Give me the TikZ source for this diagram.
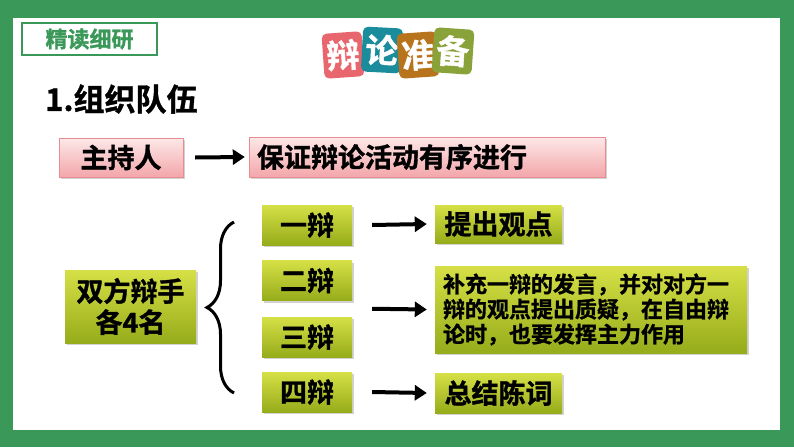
\documentclass[tikz,border=0pt]{standalone}
\usepackage{fontspec}
\setmainfont{Noto Sans CJK SC}[BoldFont={Noto Sans CJK SC Bold},BoldFeatures={FakeBold=1.2}]
\usetikzlibrary{arrows.meta,shadows,decorations.pathreplacing,calc}
\definecolor{framegreen}{RGB}{58,152,88}
\definecolor{pinktop}{RGB}{253,232,232}
\definecolor{pinkbot}{RGB}{243,166,170}
\definecolor{pinkline}{RGB}{232,140,146}
\definecolor{olivetop}{RGB}{214,224,70}
\definecolor{olivebot}{RGB}{150,172,26}
\definecolor{tileA}{RGB}{232,103,110}
\definecolor{tileB}{RGB}{26,140,156}
\definecolor{tileC}{RGB}{184,116,28}
\definecolor{tileD}{RGB}{138,162,58}
\begin{document}
\begin{tikzpicture}[x=1pt,y=-1pt,
  pinkbox/.style={draw=pinkline,top color=pinktop,bottom color=pinkbot,
    drop shadow={shadow xshift=2pt,shadow yshift=-2pt,opacity=0.35},
    font=\fontsize{27}{30}\selectfont\bfseries,inner sep=0pt},
  greenbox/.style={top color=olivetop,bottom color=olivebot,
    drop shadow={shadow xshift=2pt,shadow yshift=-2pt,opacity=0.35},
    font=\fontsize{27}{31}\selectfont\bfseries,inner sep=0pt,align=center},
  tile/.style={rounded corners=5pt,minimum width=40pt,minimum height=45pt,
    text=white,font=\fontsize{33}{33}\selectfont\bfseries,inner sep=0pt},
  arr/.style={-{Triangle[length=12pt,width=15pt]},line width=4pt}]
\useasboundingbox (0,0) rectangle (794,447);
% frame
\fill[framegreen] (0,0) rectangle (794,447);
\fill[white] (13,18) rectangle (780,430);
% heading
\node[draw=framegreen,line width=2pt,minimum width=135pt,minimum height=32pt,
  text=framegreen,font=\fontsize{22}{22}\selectfont\bfseries] (tag) at (89.5,39) {精读细研};
\node[tile,fill=tileA,rotate=4] (t1) at (343,55) {辩};
\node[tile,fill=tileB,rotate=-3] (t2) at (382,50) {论};
\node[tile,fill=tileC,rotate=4] (t3) at (418,55) {准};
\node[tile,fill=tileD,rotate=-4] (t4) at (453,51) {备};
\node[anchor=west,font=\fontsize{31}{31}\selectfont\bfseries,inner sep=0pt] (title) at (45,99) {1.组织队伍};
% host
\node[pinkbox,minimum width=124pt,minimum height=39pt] (host) at (121,157.5) {主持人};
\node[pinkbox,minimum width=356pt,minimum height=40pt,text width=340pt,align=left] (duty) at (427,157) {保证辩论活动有序进行};
\draw[arr] ([xshift=12pt]host.east) -- ([xshift=-4pt]duty.west);
% debaters
\node[greenbox,minimum width=131pt,minimum height=73pt] (team) at (130.5,306.5) {双方辩手\\各4名};
\draw[line width=3pt,decorate,decoration={brace,amplitude=27pt}] (234,393) -- (234,222);
\node[greenbox,minimum width=90pt,minimum height=40pt] (d1) at (307,225) {一辩};
\node[greenbox,minimum width=90pt,minimum height=40pt] (d2) at (307,280.5) {二辩};
\node[greenbox,minimum width=90pt,minimum height=40pt] (d3) at (307,337) {三辩};
\node[greenbox,minimum width=90pt,minimum height=40pt] (d4) at (307,392) {四辩};
\node[greenbox,minimum width=127pt,minimum height=38pt] (r1) at (498.5,224) {提出观点};
\node[greenbox,minimum width=312pt,minimum height=87pt,text width=296pt,align=left,
  font=\fontsize{22}{25}\selectfont\bfseries] (r2) at (591,309.5)
  {补充一辩的发言，并对对方一\\辩的观点提出质疑，在自由辩\\论时，也要发挥主力作用};
\node[greenbox,minimum width=127pt,minimum height=40pt] (r3) at (498.5,393) {总结陈词};
\coordinate (m23) at ($(d2.east)!0.5!(d3.east)+(20,0)$);
\draw[arr] ([xshift=20pt]d1.east) -- ([xshift=-8pt]r1.west);
\draw[arr] (m23) -- ([xshift=-8pt]r2.west);
\draw[arr] ([xshift=20pt]d4.east) -- ([xshift=-8pt]r3.west);
\end{tikzpicture}
\end{document}
